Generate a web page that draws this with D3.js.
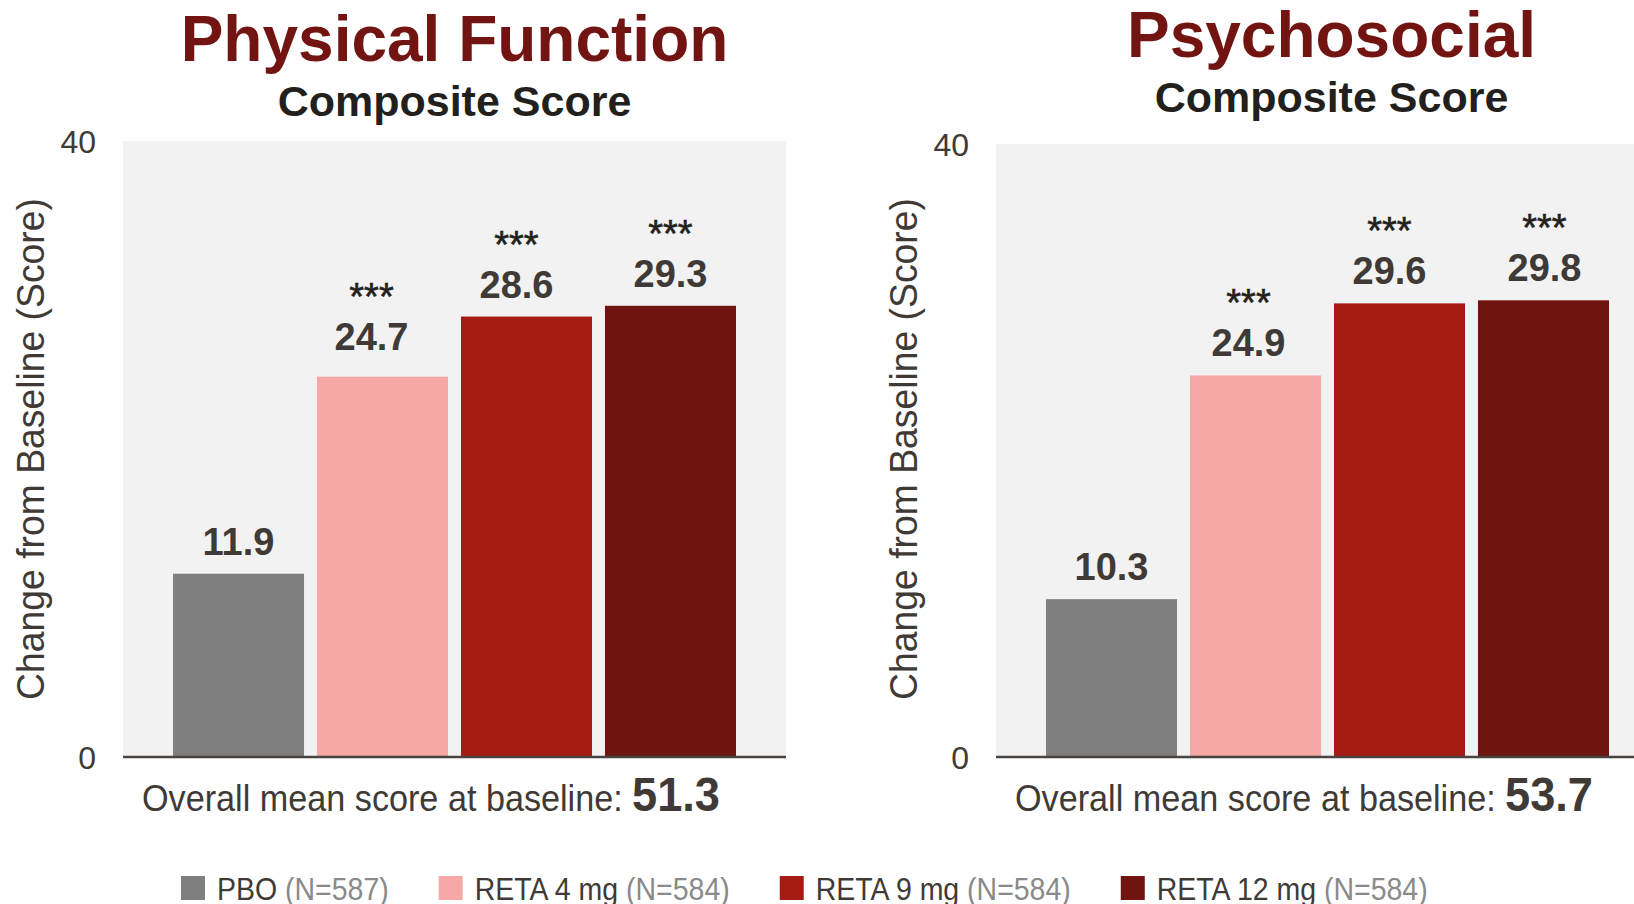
<!DOCTYPE html>
<html>
<head>
<meta charset="utf-8">
<script src="https://cdn.jsdelivr.net/npm/d3@7"></script>
<style>
  body { margin: 0; background: #fff; }
  svg { display: block; font-family: "Liberation Sans", Arial, Helvetica, sans-serif; }
</style>
</head>
<body>
<svg id="chart" width="1634" height="904"></svg>
<script>
// ---- data ----
const groups = ["PBO", "RETA 4 mg", "RETA 9 mg", "RETA 12 mg"];
const groupN = ["N=587", "N=584", "N=584", "N=584"];
const physicalValues = [11.9, 24.7, 28.6, 29.3];
const psychosocialValues = [10.3, 24.9, 29.6, 29.8];
const physicalSignif = ["", "***", "***", "***"];
const psychosocialSignif = ["", "***", "***", "***"];
const panelTitles = ["Physical Function", "Psychosocial"];
const panelSubtitle = "Composite Score";
const baselineMeans = [51.3, 53.7];
const yTicks = [0, 40];
const yDomain = [0, 40];
const yAxisTitle = "Change from Baseline (Score)";

// ---- style ----
const barColors = ["#7f7f7f", "#f5a8a5", "#a71b15", "#701410"];
const titleColor = "#721411";
const inkDark = "#231f1c";
const inkText = "#403a36";
const inkMuted = "#8a8a8a";

// ---- layout ----
const panels = [
  { title: panelTitles[0], values: physicalValues, signif: physicalSignif, mean: baselineMeans[0],
    plotLeft: 123, plotRight: 786, plotTop: 141, barsLeft: 173, titleShift: 0,
    titleY: 61, subtitleY: 116, yLabelX: 44,
    labelDx: [0, -11, -10, 0], labelDy: [0, -8, 0, 0] },
  { title: panelTitles[1], values: psychosocialValues, signif: psychosocialSignif, mean: baselineMeans[1],
    plotLeft: 996, plotRight: 1634, plotTop: 144, barsLeft: 1046, titleShift: 4,
    titleY: 57, subtitleY: 112, yLabelX: 917,
    labelDx: [0, -7, -10, 1], labelDy: [0, 0, 0, 0] }
];
const plotBottom = 757;
const barsSpan = 563;

const svg = d3.select("#chart");

// squeeze a text horizontally to a given width, keeping its anchor point
function fitWidth(sel, width) {
  const w = sel.node().getComputedTextLength();
  return width / w;
}

panels.forEach(p => {
  const g = svg.append("g");

  const x = d3.scaleBand().domain(groups)
    .range([p.barsLeft, p.barsLeft + barsSpan])
    .paddingInner(0.09).paddingOuter(0);
  const y = d3.scaleLinear().domain(yDomain).range([plotBottom, p.plotTop]);
  const cx = p.barsLeft + barsSpan / 2 + p.titleShift;

  // plot background
  g.append("rect")
    .attr("x", p.plotLeft).attr("y", y(yDomain[1]))
    .attr("width", p.plotRight - p.plotLeft)
    .attr("height", y(yDomain[0]) - y(yDomain[1]))
    .attr("fill", "#f2f2f2");

  // bars
  g.selectAll("rect.bar").data(p.values).join("rect")
    .attr("class", "bar")
    .attr("x", (d, i) => x(groups[i]))
    .attr("y", d => y(d))
    .attr("width", x.bandwidth())
    .attr("height", d => y(0) - y(d))
    .attr("fill", (d, i) => barColors[i]);

  const labelX = (d, i) => x(groups[i]) + x.bandwidth() / 2 + p.labelDx[i];
  const labelY = (d, i) => y(d) - 19 + p.labelDy[i];

  // value labels
  g.selectAll("text.val").data(p.values).join("text")
    .attr("class", "val")
    .attr("x", labelX)
    .attr("y", labelY)
    .attr("text-anchor", "middle")
    .attr("font-size", 38).attr("font-weight", "bold")
    .attr("fill", inkText)
    .text(d => d.toFixed(1));

  // significance markers
  g.selectAll("text.sig").data(p.values).join("text")
    .attr("class", "sig")
    .attr("x", labelX)
    .attr("y", (d, i) => labelY(d, i) - 40)
    .attr("text-anchor", "middle")
    .attr("font-size", 38)
    .attr("fill", inkDark)
    .attr("stroke", inkDark).attr("stroke-width", 0.6)
    .text((d, i) => p.signif[i]);

  // y axis ticks (0 and 40)
  const yAxis = d3.axisLeft(y).tickValues(yTicks).tickSize(0).tickPadding(27)
    .tickFormat(d3.format("d"));
  const ax = g.append("g").attr("transform", `translate(${p.plotLeft},0)`).call(yAxis);
  ax.select(".domain").remove();
  ax.selectAll("text")
    .attr("font-size", 32)
    .attr("font-family", "Liberation Sans, Arial, sans-serif")
    .attr("fill", inkText)
    .attr("dy", "0.36em");

  // zero line
  g.append("line")
    .attr("x1", p.plotLeft).attr("x2", p.plotRight)
    .attr("y1", y(0)).attr("y2", y(0))
    .attr("stroke", "#4a4440").attr("stroke-width", 2.5);

  // y axis title
  const yt = g.append("text")
    .attr("text-anchor", "middle")
    .attr("font-size", 39)
    .attr("fill", inkText)
    .text(yAxisTitle);
  yt.attr("transform", `translate(${p.yLabelX},449) rotate(-90) scale(${fitWidth(yt, 502)},1)`);

  // titles
  g.append("text")
    .attr("x", cx).attr("y", p.titleY)
    .attr("text-anchor", "middle")
    .attr("font-size", 64).attr("font-weight", "bold")
    .attr("fill", titleColor)
    .text(p.title);
  g.append("text")
    .attr("x", cx).attr("y", p.subtitleY)
    .attr("text-anchor", "middle")
    .attr("font-size", 43).attr("font-weight", "bold")
    .attr("fill", inkDark)
    .text(panelSubtitle);

  // baseline mean caption
  const capX = p.barsLeft - 31;
  const capLead = g.append("text")
    .attr("font-size", 37)
    .attr("fill", inkText)
    .text("Overall mean score at baseline:");
  capLead.attr("transform", `translate(${capX},811) scale(${fitWidth(capLead, 481)},1)`);
  const capNum = g.append("text")
    .attr("font-size", 48).attr("font-weight", "bold")
    .attr("fill", inkText)
    .text(p.mean.toFixed(1));
  capNum.attr("transform", `translate(${capX + 490},811) scale(${fitWidth(capNum, 88)},1)`);
});

// ---- legend ----
const legendCondense = 0.89;
let lx = 181;
const legendBase = 900;
groups.forEach((name, i) => {
  const item = svg.append("g");
  item.append("rect")
    .attr("x", lx).attr("y", legendBase - 24)
    .attr("width", 24).attr("height", 24)
    .attr("fill", barColors[i]);
  const t = item.append("text")
    .attr("font-size", 32)
    .attr("fill", inkText);
  t.append("tspan").text(name + " ");
  t.append("tspan").attr("fill", inkMuted).text("(" + groupN[i] + ")");
  const tx = lx + 24 + 12;
  t.attr("transform", `translate(${tx},${legendBase}) scale(${legendCondense},1)`);
  const w = t.node().getComputedTextLength() * legendCondense;
  lx = tx + w + 50;
});
</script>
</body>
</html>
